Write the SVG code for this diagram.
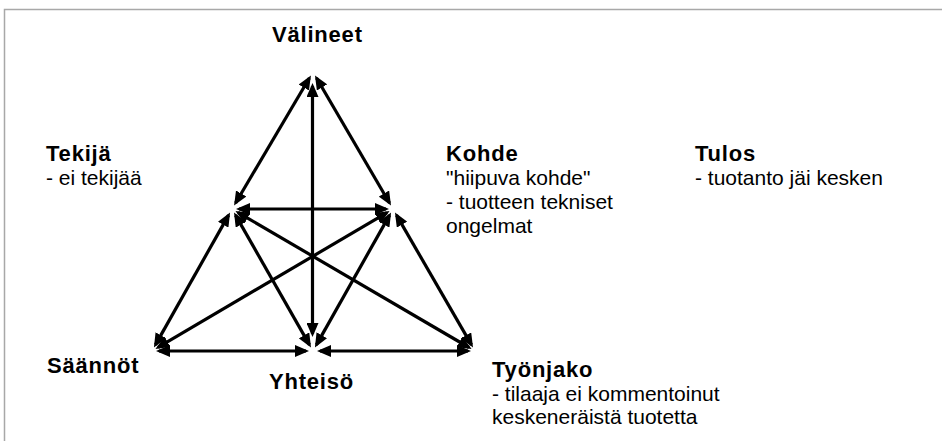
<svg xmlns="http://www.w3.org/2000/svg" width="942" height="441" viewBox="0 0 942 441">
<style>
  .frame { fill: none; stroke: #a8a8a8; stroke-width: 1.5; }
  .t { font-family: "Liberation Sans", Arial, sans-serif; fill: #000; }
  .title { font-size: 22px; font-weight: bold; letter-spacing: 0.8px; }
  .sub { font-size: 21px; }
  .edge { stroke: #000; stroke-width: 3.2; fill: none; marker-start: url(#ah); marker-end: url(#ah); }
</style>
<defs>
  <marker id="ah" viewBox="0 0 14 12" markerWidth="14" markerHeight="12" refX="11" refY="6" orient="auto-start-reverse" markerUnits="userSpaceOnUse">
    <path d="M0,0 L14,6 L0,12 z" fill="#000"/>
  </marker>
</defs>
<rect class="frame" x="4.5" y="9.5" width="950" height="450"/>
<g id="connectors">
  <line class="edge" x1="309.4" y1="78" x2="235.6" y2="203"/>
  <line class="edge" x1="316.5" y1="78" x2="389.5" y2="203"/>
  <line class="edge" x1="312.5" y1="86" x2="312.5" y2="334"/>
  <line class="edge" x1="239" y1="209" x2="386" y2="209"/>
  <line class="edge" x1="228.6" y1="215.1" x2="155.4" y2="344.9"/>
  <line class="edge" x1="396.5" y1="215.1" x2="471.5" y2="344.9"/>
  <line class="edge" x1="159" y1="351" x2="306" y2="351"/>
  <line class="edge" x1="320" y1="351" x2="468" y2="351"/>
  <line class="edge" x1="235.5" y1="215.1" x2="309.5" y2="344.9"/>
  <line class="edge" x1="389.6" y1="215.1" x2="316.4" y2="344.9"/>
  <line class="edge" x1="238" y1="212.5" x2="469" y2="347.5"/>
  <line class="edge" x1="387" y1="212.6" x2="158" y2="347.4"/>
</g>
<g id="valineet"><text class="t title" x="272" y="42">Välineet</text></g>
<g id="tekija">
  <text class="t title" x="46" y="161">Tekijä</text>
  <text class="t sub" x="46" y="185">- ei tekijää</text>
</g>
<g id="kohde">
  <text class="t title" x="446" y="161">Kohde</text>
  <text class="t sub" x="446" y="185">"hiipuva kohde"</text>
  <text class="t sub" x="446" y="209">- tuotteen tekniset</text>
  <text class="t sub" x="446" y="233">ongelmat</text>
</g>
<g id="tulos">
  <text class="t title" x="695" y="161">Tulos</text>
  <text class="t sub" x="695" y="185">- tuotanto jäi kesken</text>
</g>
<g id="saannot"><text class="t title" x="47" y="373">Säännöt</text></g>
<g id="yhteiso"><text class="t title" x="269" y="389">Yhteisö</text></g>
<g id="tyonjako">
  <text class="t title" x="492" y="377">Työnjako</text>
  <text class="t sub" x="492" y="401">- tilaaja ei kommentoinut</text>
  <text class="t sub" x="492" y="424">keskeneräistä tuotetta</text>
</g>
</svg>
